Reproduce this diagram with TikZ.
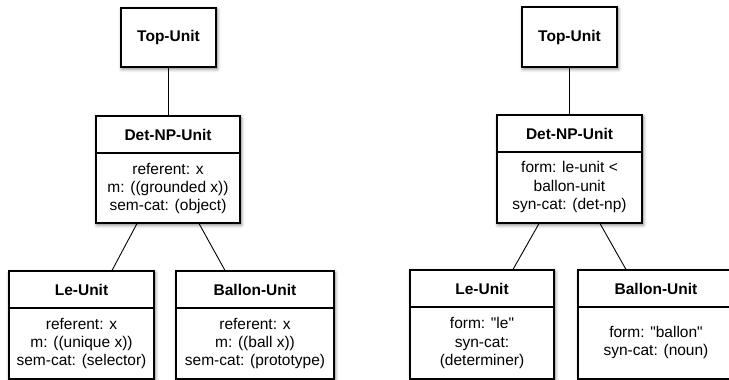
\documentclass[tikz,border=0pt]{standalone}
\usepackage{fontspec}
\setmainfont{Liberation Sans}[Ligatures=TeXOff]
\usetikzlibrary{shadows.blur}
\tikzset{
  ubox/.style={draw=black, line width=1.1pt, fill=white, inner sep=0pt,
    blur shadow={shadow xshift=1pt, shadow yshift=-2pt, shadow blur radius=3.5pt, shadow opacity=55}},
  hdr/.style={inner sep=0pt, font=\fontsize{15.5}{18}\selectfont\bfseries},
  bodytxt/.style={inner sep=0pt, align=center, font=\fontsize{15.5}{18.2}\selectfont},
  sepline/.style={line width=1.1pt},
  conn/.style={line width=0.9pt}
}
\begin{document}
\begin{tikzpicture}[x=1pt,y=1pt]
\useasboundingbox (0,0) rectangle (729,380);
% ---------- left tree ----------
\node[ubox, minimum width=95, minimum height=59] (topL) at (168.5,342.5) {};
\node[hdr] (topLt) at (topL.center) {Top-Unit};

\node[ubox, minimum width=144, minimum height=107] (detL) at (168,210.5) {};
\draw[sepline] (detL.west |- 0,227) -- (detL.east |- 0,227);
\node[hdr] (detLh) at (168,245.5) {Det-NP-Unit};
\node[bodytxt] (detLb) at (168,191.5) {referent: x\\m: ((grounded x))\\sem-cat: (object)};

\node[ubox, minimum width=145, minimum height=108] (leL) at (81.5,55) {};
\draw[sepline] (leL.west |- 0,72) -- (leL.east |- 0,72);
\node[hdr] (leLh) at (81.5,90.5) {Le-Unit};
\node[bodytxt] (leLb) at (81.5,36.5) {referent: x\\m: ((unique x))\\sem-cat: (selector)};

\node[ubox, minimum width=158, minimum height=108] (balL) at (255,55) {};
\draw[sepline] (balL.west |- 0,72) -- (balL.east |- 0,72);
\node[hdr] (balLh) at (255,90.5) {Ballon-Unit};
\node[bodytxt] (balLb) at (255,36.5) {referent: x\\m: ((ball x))\\sem-cat: (prototype)};

\draw[conn] (topL.south) -- (detL.north -| topL.south);
\draw[conn] (detL.south -| 137,0) -- (leL.north -| 112,0);
\draw[conn] (detL.south -| 199,0) -- (balL.north -| 225,0);

% ---------- right tree ----------
\node[ubox, minimum width=95, minimum height=60] (topR) at (569.5,343) {};
\node[hdr] (topRt) at (topR.center) {Top-Unit};

\node[ubox, minimum width=145, minimum height=108] (detR) at (569.5,211) {};
\draw[sepline] (detR.west |- 0,228) -- (detR.east |- 0,228);
\node[hdr] (detRh) at (569.5,246.5) {Det-NP-Unit};
\node[bodytxt] (detRb) at (569.5,193) {form: le-unit <\\ballon-unit\\syn-cat: (det-np)};

\node[ubox, minimum width=144, minimum height=109] (leR) at (482,55.5) {};
\draw[sepline] (leR.west |- 0,73) -- (leR.east |- 0,73);
\node[hdr] (leRh) at (482,91.5) {Le-Unit};
\node[bodytxt] (leRb) at (482,37) {form: "le"\\syn-cat:\\(determiner)};

\node[ubox, minimum width=167, minimum height=109] (balR) at (661.5,55.5) {};
\draw[sepline] (balR.west |- 0,73) -- (balR.east |- 0,73);
\node[hdr] (balRh) at (656,91.5) {Ballon-Unit};
\node[bodytxt] (balRb) at (656,37.5) {form: "ballon"\\syn-cat: (noun)};

\draw[conn] (topR.south) -- (detR.north -| topR.south);
\draw[conn] (detR.south -| 539,0) -- (leR.north -| 513,0);
\draw[conn] (detR.south -| 600,0) -- (balR.north -| 626,0);
\end{tikzpicture}
\end{document}
